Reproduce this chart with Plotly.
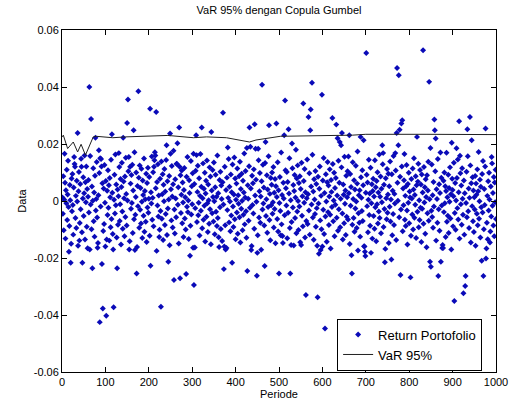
import plotly.graph_objects as go

# ---------------- data ----------------
# Outlying / clearly readable points: period and return (units of 1e-4)
out_period = [63, 152, 67, 150, 36, 115, 77, 141, 165, 6, 28, 52, 85, 88, 90, 91, 131, 154, 157, 45, 30,
              20, 47, 70, 92, 127, 16, 40, 64, 82, 118, 103, 155, 94, 119, 102, 87,
              176, 203, 217, 270, 322, 249, 309, 241, 266, 303, 310, 214, 215, 213, 212, 250, 265, 271,
              172, 204, 245, 295, 258, 272, 286, 304, 228, 168, 224, 306,
              461, 371, 344, 432, 444, 477, 494, 382, 426, 434, 446, 452, 469,
              392, 373, 427, 449, 467, 500, 362, 436, 450, 374, 377,
              576, 514, 599, 556, 573, 568, 623, 632, 522, 572, 512, 645, 662, 635, 640, 643, 530, 539, 660,
              526, 562, 589, 606, 667, 668, 592, 596, 600, 504, 509, 528, 551,
              701, 832, 772, 776, 784, 782, 778, 771, 688, 695, 818, 738, 740, 775, 768,
              780, 803, 744, 759, 697, 698, 699, 682, 712,
              846, 858, 915, 940, 934, 976, 859, 861, 944, 849, 872, 898, 909, 917, 990,
              867, 930, 971, 929, 925, 904, 848, 850, 873, 876, 878, 977, 967, 978, 986]
out_value = [400, 356, 288, 274, 239, 234, 222, 222, 248, 166, 154, 160, 178, 150, 147, 121, 168, 154, 120, 120, 120,
             -217, -217, -236, -221, -236, -178, -139, -170, -164, -170, -135, -170, -377, -373, -403, -425,
             385, 324, 312, 258, 258, 237, 231, 196, 203, 166, 161, 171, 160, 143, 120, 166, 130, 120,
             -254, -227, -213, -192, -277, -271, -256, -295, -371, -172, -126, -163,
             408, 310, 242, 258, 269, 266, 272, 188, 186, 190, 183, 183, 207,
             -217, -239, -246, -262, -228, -254, -161, -172, -182, -160, -170,
             415, 353, 373, 342, 321, 295, 291, 268, 252, 248, 231, 239, 231, 220, 207, 196, 202, 180, 156,
             -254, -330, -338, -447, -190, -254, -185, -172, -160, -120, -147, -154, -154,
             519, 529, 467, 441, 283, 272, 250, 239, 225, 213, 225, 196, 168, 196, 168,
             -260, -268, -215, -205, -160, -178, -193, -174, -182,
             418, 286, 280, 295, 252, 254, 248, 219, 213, 186, 170, 204, 185, 159, 154,
             -263, -263, -263, -298, -324, -351, -213, -231, -213, -165, -165, -202, -210, -167, -146]

# Dense core of the cloud (units of 1e-4), in period order for the remaining periods
core_value = [
    12, -45, 87, -103, 5, 64, -132, 38, -8, 110, -67, 23, 141, -21, -88, 56, 3, -150, 79, -36,
    95, -14, -118, 47, 130, -60, 18, -95, 71, -2, -157, 34, 102, -77, 60, -29, 148, -110, 9, 83,
    -53, 27, -135, 66, -4, 121, -90, 42, -166, 15, 74, -40, 158, -12, -99, 51, 1, 115, -71, 30,
    -125, 89, -33, 7, 137, -58, -147, 20, 98, -19, 62, -105, 44, -81, 126, -6, -160, 70, 36, -49,
    108, -24, 55, -139, 81, 13, -92, 145, -63, 29, -116, 4, 92, -44, 163, -15, 58, -128, 40, -83,
    17, 119, -70, -11, 77, -153, 49, 134, -37, -97, 68, 10, -124, 86, -56, 152, 25, -86, 2, 104,
    -141, 61, -27, 91, -7, 127, -112, 37, -64, 171, -48, 14, 100, -161, 53, -18, 82, -94, 125, -31,
    46, -79, 113, -3, -130, 72, 21, -52, 149, -108, 35, 6, -73, 96, -144, 63, -23, 117, -41, 8,
    84, -122, 31, -9, 156, -66, 11, 101, -89, 45, -175, 67, -16, 129, -54, 19, -101, 78, -35, 139,
    -62, 24, 94, -137, 57, -1, 112, -84, 33, -46, 144, -119, 69, -26, 5, 88, -155, 41, -68, 123,
    16, -93, 59, 176, -30, -114, 76, 9, -57, 131, -13, 48, -149, 90, -42, 22, 107, -78, 65, -5,
    -126, 39, 116, -61, 13, -100, 85, -20, 154, -39, 2, -133, 73, 28, -87, 140, -47, 52, -11, 97,
    -164, 60, -25, 106, -74, 32, 124, -50, -6, 80, -121, 18, 165, -34, 50, -96, 10, 132, -66, 43,
    -17, 99, -142, 26, 71, -55, 142, -8, -109, 58, 3, -80, 118, -29, 86, -152, 37, -43, 109, 14,
    -72, 135, -1, -117, 48, 92, -38, 15, -88, 160, -60, 27, -127, 74, -22, 103, -98, 54, 7, -140,
    66, -12, 120, -85, 39, -165, 82, -32, 11, 147, -75, 50, -2, -106, 93, -51, 31, 128, -19, -91,
    23, 153, -64, 79, -134, 4, 61, -40, 114, -115, 20, -10, 87, -57, 138, -146, 42, -27, 96, 1,
    -103, 71, -48, 30, 167, -82, 12, 105, -36, -129, 55, 8, -69, 122, -24, 44, -158, 89, -14, 62,
    -44, 111, -97, 19, 75, -3, -120, 143, -58, 34, 98, -76, 16, -171, 69, -30, 127, -9, 47, -86,
    133, -53, 6, 90, -111, 40, -21, 157, -67, 25, -138, 81, -15, 57, 100, -45, -4, 119, -93, 29,
    -28, 77, -148, 52, 14, -63, 136, -107, 38, -7, 84, -35, 170, -82, 21, -123, 64, 9, -50, 108,
    45, -16, 102, -131, 67, -41, 26, 150, -95, 3, -74, 115, -23, 56, -156, 35, 91, -60, 12, -113,
    79, -37, 125, 0, -102, 63, -19, 87, -145, 42, 134, -52, 17, -89, 70, -6, 112, -128, 31, -70,
    10, 146, -81, 24, -33, 97, -118, 51, -12, 162, -58, 33, -136, 76, 5, -46, 105, -90, 60, -25,
    -157, 85, -9, 43, 121, -68, 18, -99, 72, -31, 151, -116, 28, -54, 94, -2, -143, 66, 137, -39,
    54, -84, 16, 111, -48, -167, 74, 32, -21, 130, -71, 2, 99, -124, 46, -13, 81, -59, 19, -104,
    141, -29, 64, -92, 8, 118, -44, -135, 58, 22, -78, 155, -10, 37, -119, 89, -55, 13, 104, -65,
    27, -151, 95, -17, 49, -83, 136, 7, -60, 73, -108, 40, -26, 124, -2, -95, 61, 174, -43, 20,
    -76, 38, -125, 83, 11, -35, 108, -70, 55, -159, 29, 92, -18, 65, -110, 4, 145, -49, 26, -87,
    117, -8, 59, -132, 35, 78, -53, 16, -97, 143, -22, 48, -141, 70, -11, 101, -79, 30, -37, 163,
    -60, 15, 86, -113, 43, -4, 129, -91, 57, -28, -168, 80, 10, -64, 112, -41, 23, 96, -147, 52,
    -20, 139, -72, 5, 94, -120, 36, -46, 158, -84, 25, -9, 107, -137, 64, 1, -57, 85, -30, 121,
    -106, 44, -15, 73, 165, -66, 18, -88, 52, 126, -33, -153, 60, -6, 99, -78, 33, 12, -122, 77,
    9, -47, 114, -100, 40, 150, -59, 21, -13, 87, -130, 55, -38, 68, 131, -92, 3, -67, 109, -24,
    58, -144, 93, -27, 30, -80, 119, -5, 48, -115, 76, 14, -162, 90, -43, 37, 138, -69, 6, -34,
    128, -56, 20, -94, 67, -19, 104, -139, 41, 7, -76, 147, -29, 59, -104, 28, 82, -16, -154, 71,
    -39, 100, -8, 52, -126, 35, 169, -73, 13, -52, 92, -112, 46, -3, 118, -61, 24, -170, 78, 39,
    -89, 17, 134, -42, 63, -101, 2, 81, -25, 146, -65, 31, -132, 97, -11, 54, -83, 115, 8, -48,
    72, -118, 27, -7, 103, -57, 157, -36, 44, -95, 11, 125, -146, 62, -18, 83, -71, 37, -109, 13,
    -30, 88, -157, 61, 22, -45, 111, -85, 34, 172, -62, -1, 75, -128, 50, -22, 95, -40, 140, -99,
    42, -14, 121, -76, 18, -134, 69, -33, 99, 5, -107, 51, -54, 132, -17, 28, -86, 84, -124, 65,
    -4, 110, -63, 29, -150, 80, 15, -41, 148, -93, 39, -11, 70, -119, 24, 117, -50, 9, -78, 56,
]

# VaR 95% line, read at its turning points
var_period = [1, 3, 13, 26, 36, 44, 54, 64, 72, 79, 117, 147, 174, 244, 303, 321, 333, 379, 410,
              432, 447, 477, 503, 669, 700, 841, 1000]
var_value = [0.0225, 0.0231, 0.0184, 0.0207, 0.0172, 0.0199, 0.0161, 0.0199, 0.0225, 0.0227,
             0.0222, 0.0225, 0.0227, 0.0230, 0.0222, 0.0225, 0.0225, 0.0222, 0.0214, 0.0207,
             0.0214, 0.0222, 0.0227, 0.0231, 0.0234, 0.0234, 0.0233]

N_PERIODS = 1000
x_ticks = list(range(0, 1001, 100))
y_ticks = [-0.06, -0.04, -0.02, 0, 0.02, 0.04, 0.06]
y_ticktext = ["-0.06", "-0.04", "-0.02", "0", "0.02", "0.04", "0.06"]

# ---------------- assemble series ----------------
series = {}
for p, v in zip(out_period, out_value):
    while p in series:
        p += 1
    series[p] = v / 10000.0
free = [p for p in range(1, N_PERIODS + 1) if p not in series]
n = min(len(free), len(core_value))
for i in range(n):
    idx = i * len(free) // n
    series[free[idx]] = core_value[i] / 10000.0
periods = sorted(series)
returns = [series[p] for p in periods]

# ---------------- figure ----------------
FONT = "Liberation Sans, Arial, sans-serif"
fig = go.Figure()
fig.add_trace(go.Scatter(
    x=periods, y=returns, mode="markers", name="Return Portofolio",
    marker=dict(symbol="diamond", size=4.6, color="#0a0ab8", line=dict(width=0)),
))
fig.add_trace(go.Scatter(
    x=var_period, y=var_value, mode="lines", name="VaR 95%",
    line=dict(color="#202020", width=1),
))

axis_common = dict(
    showline=True, linecolor="black", linewidth=1, mirror="ticks",
    ticks="inside", ticklen=5, tickcolor="black", showgrid=False, zeroline=False,
    automargin=False,
    tickfont=dict(family=FONT, size=11, color="black"),
)
fig.update_xaxes(range=[0, 1000], tickvals=x_ticks, **axis_common,
                 title=dict(text="Periode", font=dict(family=FONT, size=11, color="black"), standoff=2))
fig.update_yaxes(range=[-0.06, 0.06], tickvals=y_ticks, ticktext=y_ticktext, **axis_common,
                 title=dict(text="Data", font=dict(family=FONT, size=11, color="black"), standoff=4))

fig.update_layout(
    width=510, height=407,
    margin=dict(l=62, r=14, t=30, b=35, autoexpand=False),
    paper_bgcolor="white", plot_bgcolor="white",
    title=dict(text="VaR 95% dengan Copula Gumbel", x=0.5, xref="paper", xanchor="center",
               y=0.975, yanchor="middle", font=dict(family=FONT, size=11, color="black")),
    legend=dict(x=0.968, y=0.004, xanchor="right", yanchor="bottom",
                bgcolor="white", bordercolor="black", borderwidth=1,
                font=dict(family=FONT, size=13, color="black"), tracegroupgap=0),
    showlegend=True,
)

fig.write_html("out.html", config={"displayModeBar": False},
               post_script="document.body.style.margin='0';document.body.style.overflow='hidden';")
